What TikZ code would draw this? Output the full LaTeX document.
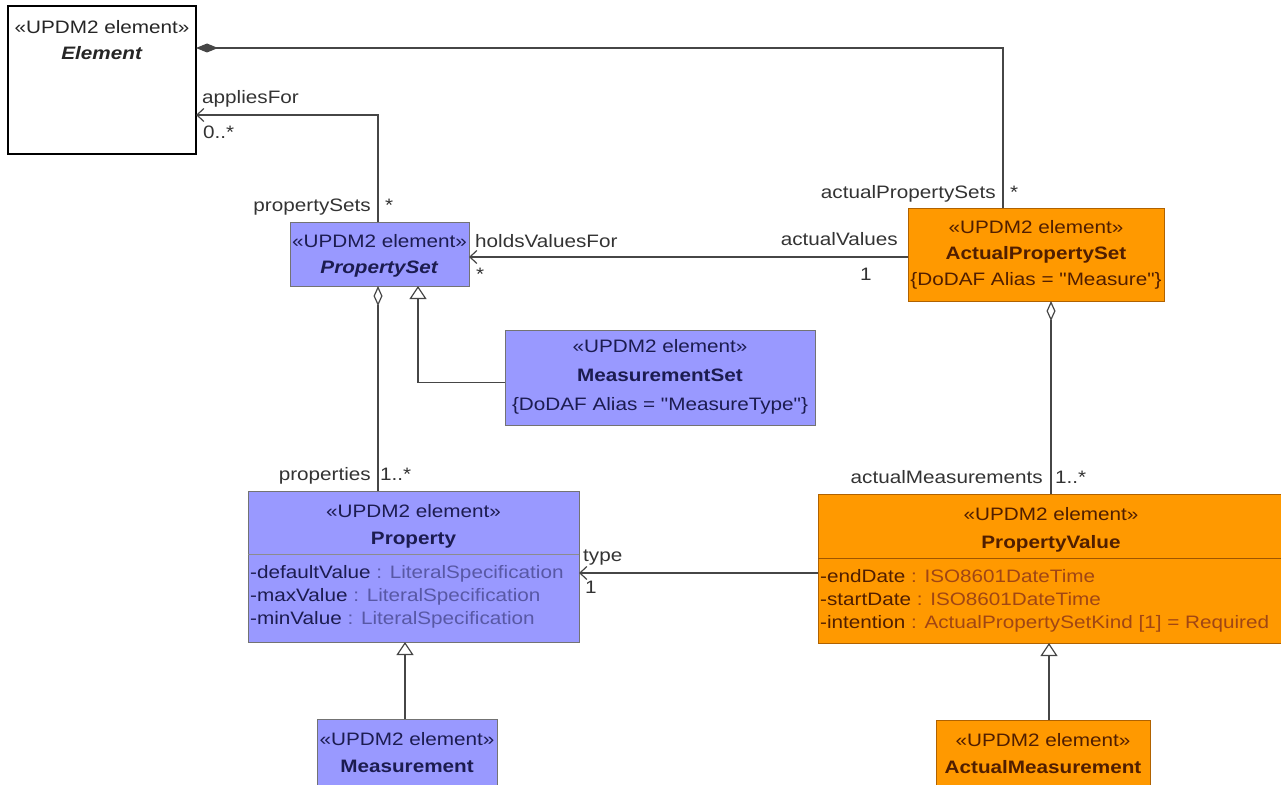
\documentclass[tikz,border=0pt]{standalone}
\usepackage{fontspec}
\setmainfont{Liberation Sans}[FakeStretch=1.15, Ligatures=TeXOff]
\usetikzlibrary{arrows.meta}
\definecolor{clsblue}{RGB}{153,153,255}
\definecolor{clsorange}{RGB}{255,153,0}
\definecolor{bluedark}{RGB}{28,28,80}
\definecolor{bluetype}{RGB}{88,88,165}
\definecolor{orgdark}{RGB}{80,30,0}
\definecolor{orgtype}{RGB}{160,70,20}
\definecolor{wiregray}{RGB}{70,70,70}
\newcommand{\stype}{«UPDM2 element»}

\begin{document}
\begin{tikzpicture}[x=1pt, y=1pt,
 font=\fontsize{18}{26}\selectfont,
 cls/.style={draw=black!55, line width=1pt, anchor=north west, inner sep=0pt, outer sep=0pt},
 bcls/.style={cls, fill=clsblue},
 ocls/.style={cls, fill=clsorange, draw=orgdark!45!clsorange},
 head/.style={anchor=north, align=center, inner sep=0pt, yshift=-12pt},
 attr/.style={anchor=north west, align=left, inner sep=0pt, xshift=2pt, yshift=-11pt, font=\fontsize{18}{23}\selectfont},
 divider/.style={line width=1pt},
 role/.style={inner sep=0pt, text=black!80, anchor=base west},
 wire/.style={draw=wiregray, line width=1.2pt},
 assoc/.style={wire, -{Straight Barb[length=7pt, width=13pt]}},
 aggr/.style={wire, -{Diamond[open, length=20pt, width=9pt, fill=white]}},
 compo/.style={wire, -{Diamond[length=22pt, width=9pt]}},
 gen/.style={wire, -{Triangle[open, length=13pt, width=17pt, fill=white]}}]
\useasboundingbox (0,0) rectangle (1281,-784);

% classes
\node[cls, draw=black, line width=1.6pt, fill=white, minimum width=188pt, minimum height=148pt] (elem) at (8,-6) {};
\node[head, yshift=-2pt, text=black!85] (elemT) at (elem.north) {\stype\\\textbf{\textit{Element}}};

\node[bcls, minimum width=179pt, minimum height=64pt] (pset) at (290,-222) {};
\node[head, text=bluedark] (psetT) at (pset.north) {\stype\\\textbf{\textit{PropertySet}}};

\node[ocls, minimum width=256pt, minimum height=93pt] (aps) at (908,-208) {};
\node[head, text=orgdark] (apsT) at (aps.north) {\stype\\\textbf{ActualPropertySet}\\\{DoDAF Alias = "Measure"\}};

\node[bcls, minimum width=310pt, minimum height=95pt] (mset) at (505,-330) {};
\node[head, yshift=3pt, text=bluedark, font=\fontsize{18}{29}\selectfont] (msetT) at (mset.north) {\stype\\\textbf{MeasurementSet}\\\{DoDAF Alias = "MeasureType"\}};

\node[bcls, minimum width=331pt, minimum height=151pt] (prop) at (248,-491) {};
\node[head, yshift=-1pt, text=bluedark, font=\fontsize{18}{27}\selectfont] (propT) at (prop.north) {\stype\\\textbf{Property}};
\draw[divider, draw=black!45] ([yshift=-63pt]prop.north west) -- ([yshift=-63pt]prop.north east);
\node[attr, text=bluedark] (propA) at ([yshift=-63pt]prop.north west) {-defaultValue \textcolor{bluetype}{: LiteralSpecification}\\-maxValue \textcolor{bluetype}{: LiteralSpecification}\\-minValue \textcolor{bluetype}{: LiteralSpecification}};

\node[ocls, minimum width=466pt, minimum height=149pt] (pval) at (818,-494) {};
\node[head, yshift=-1pt, text=orgdark, font=\fontsize{18}{28}\selectfont] (pvalT) at (pval.north) {\stype\\\textbf{PropertyValue}};
\draw[divider, draw=orgdark!55!clsorange] ([yshift=-64pt]pval.north west) -- ([yshift=-64pt]pval.north east);
\node[attr, text=orgdark] (pvalA) at ([yshift=-64pt]pval.north west) {-endDate \textcolor{orgtype}{: ISO8601DateTime}\\-startDate \textcolor{orgtype}{: ISO8601DateTime}\\-intention \textcolor{orgtype}{: ActualPropertySetKind [1] = Required}};

\node[bcls, minimum width=180pt, minimum height=80pt] (meas) at (317,-719) {};
\node[head, yshift=-1pt, text=bluedark, font=\fontsize{18}{27}\selectfont] (measT) at (meas.north) {\stype\\\textbf{Measurement}};

\node[ocls, minimum width=214pt, minimum height=80pt] (ameas) at (936,-720) {};
\node[head, yshift=-1pt, text=orgdark, font=\fontsize{18}{27}\selectfont] (ameasT) at (ameas.north) {\stype\\\textbf{ActualMeasurement}};

% associations
\draw[compo] ([xshift=95pt]aps.north west) |- ([yshift=-42pt]elem.north east);
\node[role, anchor=base east] (apsR) at (996,-198) {actualPropertySets};
\node[role] (apsM) at (1010,-198) {*};

\draw[assoc] ([xshift=88pt]pset.north west) |- ([yshift=-109pt]elem.north east);
\node[role] (elemR) at (202,-103) {appliesFor};
\node[role] (elemM) at (203,-138) {0..*};
\node[role, anchor=base east] (psetR) at (371,-211) {propertySets};
\node[role] (psetM) at (385,-211) {*};

\draw[assoc] ([yshift=-2.5pt]aps.west) -- ([yshift=-3pt]pset.east);
\node[role] (holdR) at (475,-247) {holdsValuesFor};
\node[role] (holdM) at (476,-280) {*};
\node[role, anchor=base east] (avalR) at (898,-245) {actualValues};
\node[role] (avalM) at (860,-280) {1};

\draw[aggr] ([xshift=130pt]prop.north west) -- ([xshift=88pt]pset.south west);
\node[role, anchor=base east] (propR) at (371,-480) {properties};
\node[role] (propM) at (380,-480) {1..*};

\draw[aggr] ([xshift=233pt]pval.north west) -- ([xshift=143pt]aps.south west);
\node[role, anchor=base east] (amR) at (1043,-483) {actualMeasurements};
\node[role] (amM) at (1055,-483) {1..*};

\draw[assoc] ([yshift=-4.5pt]pval.west) -- ([yshift=-6.5pt]prop.east);
\node[role] (typeR) at (583,-561) {type};
\node[role] (typeM) at (585,-593) {1};

% generalizations
\draw[gen] ([yshift=-5pt]mset.west) -| ([xshift=128pt]pset.south west);
\draw[gen] ([xshift=88pt]meas.north west) -- ([xshift=157pt]prop.south west);
\draw[gen] ([xshift=113pt]ameas.north west) -- ([xshift=231pt]pval.south west);
\end{tikzpicture}
\end{document}
